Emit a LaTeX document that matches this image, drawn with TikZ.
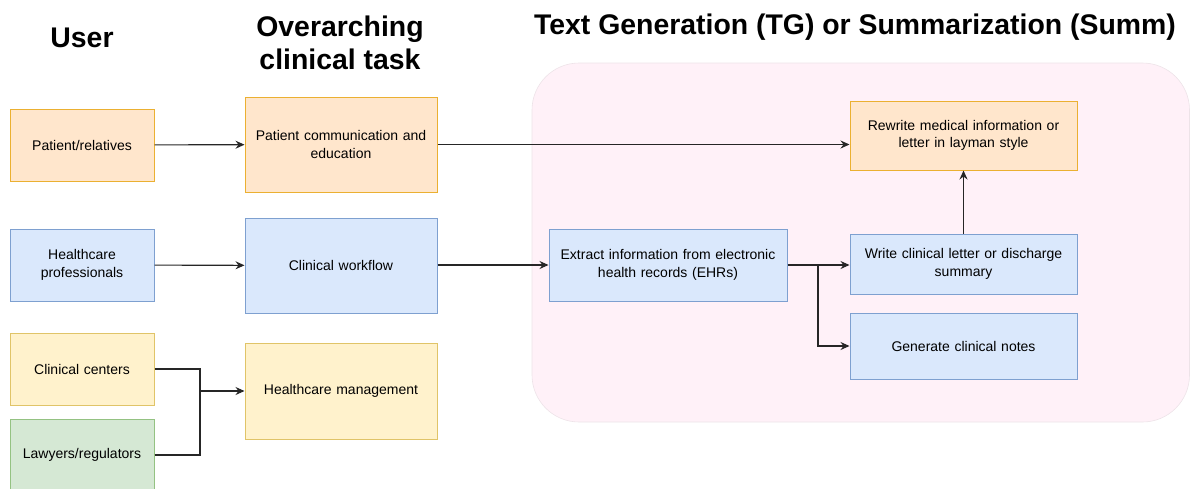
\documentclass[tikz,border=0pt]{standalone}
\usepackage{fontspec}
\setmainfont{Liberation Sans}
\usetikzlibrary{arrows.meta}

\definecolor{orfill}{HTML}{FFE6CC}
\definecolor{ordraw}{HTML}{EBB031}
\definecolor{blfill}{HTML}{DAE8FC}
\definecolor{bldraw}{HTML}{7EA0D0}
\definecolor{yefill}{HTML}{FFF2CC}
\definecolor{yedraw}{HTML}{E0C468}
\definecolor{grfill}{HTML}{D5E8D4}
\definecolor{grdraw}{HTML}{94C282}
\definecolor{regfill}{HTML}{FFF1F8}
\definecolor{regdraw}{HTML}{EDE3E8}

\tikzset{
  box/.style={draw, line width=1pt, inner sep=0pt, align=center,
    font=\fontsize{14}{17.5}\selectfont, text width=#1},
  box/.default=140pt,
  orbox/.style={box=#1, fill=orfill, draw=ordraw},
  blbox/.style={box=#1, fill=blfill, draw=bldraw},
  yebox/.style={box=#1, fill=yefill, draw=yedraw},
  grbox/.style={box=#1, fill=grfill, draw=grdraw},
  orbox/.default=140pt, blbox/.default=140pt,
  yebox/.default=140pt, grbox/.default=140pt,
  title/.style={font=\bfseries\fontsize{28.4}{33}\selectfont, align=center},
  link/.style={line width=1.1pt, draw=black!85, -{Stealth[length=9pt,width=8pt,inset=3pt]}},
  plain/.style={line width=1.1pt, draw=black!85},
}

\begin{document}
\begin{tikzpicture}[x=1pt,y=-1pt]
\useasboundingbox (0,0) rectangle (1190,488);

% shaded area of the TG / Summ tasks
\path[fill=regfill, draw=regdraw, line width=0.6pt, rounded corners=47pt]
  (532,63) rectangle (1189.5,422);

% column headings
\node[title] (hUser) at (82,38) {User};
\node[title] (hTask) at (340,43) {Overarching\\clinical task};
\node[title] (hTG) at (855,27) {Text Generation (TG) or Summarization (Summ)};

% users
\node[orbox, minimum width=144pt, minimum height=72pt] (pat) at (82,145) {Patient/relatives};
\node[blbox=130pt, minimum width=144pt, minimum height=72pt] (hcp) at (82,265) {Healthcare\\professionals};
\node[yebox, minimum width=144pt, minimum height=72pt] (cc) at (82,369) {Clinical centers};
\node[grbox, minimum width=144pt, minimum height=72pt] (law) at (82,455) {Lawyers/regulators};

% overarching tasks
\node[orbox=185pt, minimum width=192pt, minimum height=95pt] (comm) at (341,144.5) {Patient communication and\\education};
\node[blbox=185pt, minimum width=192pt, minimum height=95pt] (flow) at (341,265.5) {Clinical workflow};
\node[yebox=185pt, minimum width=192pt, minimum height=96pt] (mgmt) at (341,391) {Healthcare management};

% TG / Summ tasks
\node[orbox=215pt, minimum width=227pt, minimum height=69pt] (rew) at (963.5,135.5) {Rewrite medical information or\\letter in layman style};
\node[blbox=232pt, minimum width=238pt, minimum height=72pt] (ext) at (668,265) {Extract information from electronic\\health records (EHRs)};
\node[blbox=215pt, minimum width=227pt, minimum height=60pt] (wr) at (963.5,264) {Write clinical letter or discharge\\summary};
\node[blbox=215pt, minimum width=227pt, minimum height=66pt] (gen) at (963.5,346) {Generate clinical notes};

% connectors
\draw[link] (pat) -- (comm);
\draw[link] (hcp) -- (flow);
\coordinate (join) at (200,391);
\draw[plain] (cc.east) -| (join);
\draw[plain] (law.east) -| (join);
\draw[link] (join) -- (mgmt.west);

\draw[link] (comm.east) -- (comm.east -| rew.west);
\draw[link] (flow.east |- ext.west) -- (ext.west);
\coordinate (fork) at (818,265);
\draw[plain] (ext.east) -- (fork);
\draw[link] (fork) -- (wr.west |- fork);
\draw[link] (fork) |- (gen.west);
\draw[link] (wr.north) -- (rew.south);
\end{tikzpicture}
\end{document}
